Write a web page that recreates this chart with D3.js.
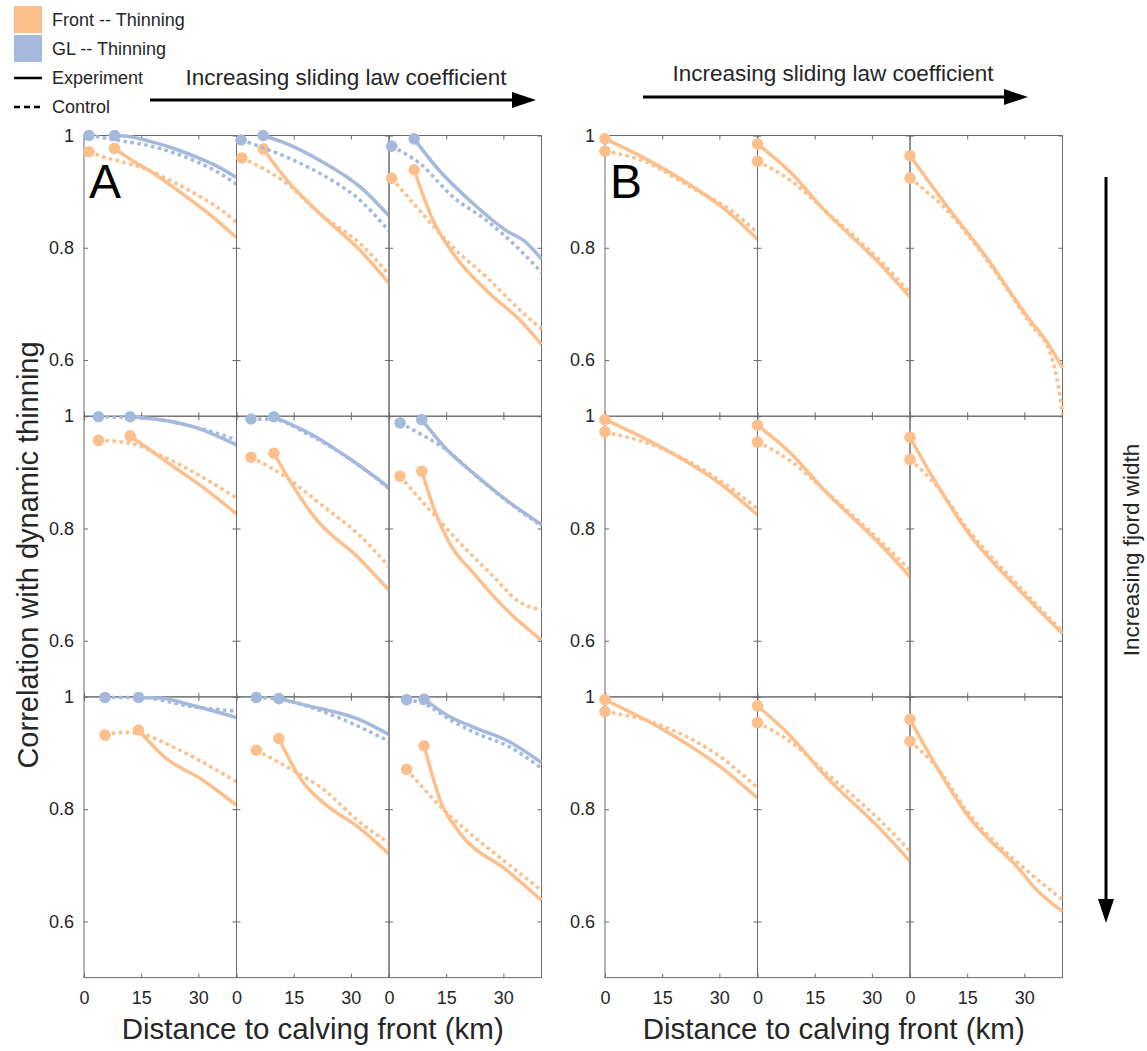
<!DOCTYPE html>
<html>
<head>
<meta charset="utf-8">
<script src="https://cdn.jsdelivr.net/npm/d3@7"></script>
<style>
  body { margin: 0; background: #fff; }
  svg { font-family: "Liberation Sans", Arial, Helvetica, sans-serif; }
</style>
</head>
<body>
<div class="container"></div>
<script>
// distance (km) vs correlation, one list of [km, r] per cell, cells row by row
const xTicks = [0, 15, 30];
const yTicks = [0.6, 0.8, 1];

// panel A
const frontExpA = [
  [[8,0.977],[12,0.958],[17,0.938],[24,0.905],[30,0.875],[35,0.848],[40,0.818]],
  [[7,0.976],[13.3,0.92],[22,0.86],[32.5,0.795],[40,0.737]],
  [[6.6,0.939],[11.6,0.848],[16.9,0.789],[25.7,0.723],[34.5,0.67],[40,0.628]],
  [[12.1,0.965],[17.8,0.9375],[23.9,0.908],[30.9,0.875],[40,0.826]],
  [[9.8,0.934],[14.6,0.878],[20.7,0.818],[32.1,0.747],[40,0.69]],
  [[8.6,0.902],[12.1,0.83],[15.6,0.777],[22.6,0.717],[31.3,0.652],[40,0.601]],
  [[14.3,0.941],[21.3,0.892],[30.9,0.853],[40,0.807]],
  [[11.1,0.926],[17.2,0.85],[23.4,0.808],[32.1,0.767],[40,0.72]],
  [[9.2,0.913],[13.9,0.808],[18.2,0.761],[31.3,0.689],[40,0.638]]
];
const frontCtlA = [
  [[1.3,0.971],[5,0.962],[10,0.953],[17,0.938],[24,0.915],[30,0.893],[35,0.872],[40,0.846]],
  [[1.4,0.96],[13.3,0.914],[22,0.86],[32.5,0.807],[40,0.752]],
  [[0.7,0.924],[8.1,0.866],[16.9,0.8],[25.7,0.747],[34.5,0.688],[40,0.655]],
  [[3.8,0.957],[12.1,0.952],[19.5,0.932],[28.3,0.902],[34.4,0.878],[40,0.854]],
  [[3.8,0.927],[12,0.896],[23.4,0.836],[32.1,0.789],[40,0.732]],
  [[2.9,0.893],[10.3,0.836],[18.2,0.777],[27,0.717],[34,0.67],[40,0.655]],
  [[5.5,0.932],[9.9,0.937],[14.3,0.935],[23.9,0.909],[34.4,0.871],[40,0.849]],
  [[5.2,0.905],[13.6,0.874],[23.4,0.832],[32.1,0.778],[40,0.74]],
  [[4.6,0.871],[13.9,0.802],[22.6,0.749],[31.3,0.702],[40,0.655]]
];
const glExpA = [
  [[8,1.0],[12,0.998],[17,0.99],[24,0.976],[30,0.96],[35,0.945],[40,0.925]],
  [[7,1.0],[13.3,0.985],[22,0.955],[32.5,0.908],[40,0.857]],
  [[6.6,0.994],[12.5,0.943],[22.2,0.878],[30.9,0.83],[35.3,0.813],[40,0.78]],
  [[12.1,0.999],[19.5,0.994],[28.3,0.982],[40,0.949]],
  [[9.8,0.999],[19,0.97],[31.2,0.917],[40,0.873]],
  [[8.6,0.994],[15.6,0.9375],[22.6,0.896],[31.3,0.848],[40,0.807]],
  [[14.3,0.999],[20,0.998],[28.3,0.985],[40,0.963]],
  [[11.1,0.997],[19,0.984],[32.1,0.96],[40,0.933]],
  [[9.2,0.996],[15.6,0.966],[22.6,0.945],[31.3,0.921],[40,0.883]]
];
const glCtlA = [
  [[1.3,1.0],[5,0.996],[10,0.99],[17,0.982],[24,0.968],[30,0.952],[35,0.935],[40,0.913]],
  [[1.2,0.992],[13.3,0.961],[22,0.932],[32.5,0.884],[40,0.83]],
  [[0.7,0.981],[8.1,0.95],[16.9,0.89],[25.7,0.848],[34.5,0.795],[40,0.756]],
  [[3.8,0.999],[12.1,0.998],[19.5,0.994],[30,0.979],[40,0.958]],
  [[3.8,0.995],[9.8,0.994],[19,0.967],[31.2,0.917],[40,0.871]],
  [[2.9,0.988],[8.6,0.967],[15.6,0.9375],[22.6,0.895],[31.3,0.847],[40,0.805]],
  [[5.5,0.999],[14.3,0.999],[30,0.981],[40,0.975]],
  [[5.2,0.999],[11.1,0.996],[23.4,0.972],[40,0.921]],
  [[4.6,0.995],[9.4,0.987],[15.6,0.961],[22.6,0.936],[31.3,0.912],[40,0.873]]
];

// panel B
const frontExpB = [
  [[0,0.994],[10,0.961],[23.2,0.908],[31.9,0.866],[40,0.815]],
  [[0,0.985],[8.7,0.934],[17.4,0.868],[32.3,0.77],[40,0.712]],
  [[0,0.964],[10.6,0.866],[19.4,0.789],[31.6,0.67],[35.1,0.64],[40,0.586]],
  [[0,0.994],[13.6,0.949],[31.1,0.875],[40,0.824]],
  [[0,0.984],[8.7,0.934],[17.4,0.869],[32.3,0.771],[40,0.714]],
  [[0,0.9625],[7.1,0.878],[15,0.795],[29.9,0.682],[40,0.613]],
  [[0,0.995],[13.6,0.948],[31.1,0.871],[40,0.82]],
  [[0,0.984],[8.7,0.93],[17.4,0.862],[32.3,0.764],[40,0.707]],
  [[0,0.96],[7.1,0.874],[15,0.79],[29.9,0.683],[32,0.665],[40,0.618]]
];
const frontCtlB = [
  [[0,0.972],[10,0.955],[23.2,0.905],[31.9,0.872],[40,0.827]],
  [[0,0.954],[8.7,0.92],[17.4,0.868],[32.3,0.776],[40,0.72]],
  [[0,0.924],[10.6,0.86],[19.4,0.785],[31.6,0.664],[36.9,0.61],[39,0.55],[40,0.503]],
  [[0,0.972],[13.6,0.946],[31.1,0.881],[40,0.835]],
  [[0,0.954],[8.7,0.92],[17.4,0.869],[32.3,0.777],[40,0.726]],
  [[0,0.923],[7.1,0.875],[15,0.8],[29.9,0.688],[40,0.616]],
  [[0,0.974],[13.6,0.952],[31.1,0.889],[40,0.838]],
  [[0,0.954],[8.7,0.92],[17.4,0.868],[32.3,0.779],[40,0.725]],
  [[0,0.921],[7.1,0.874],[15,0.796],[29.9,0.695],[40,0.639]]
];

const orange = '#fdbf8b';
const blue = '#a4b9dc';
const frameColor = '#6b6b6b';

const svg = d3.select('.container')
  .append('svg')
  .attr('width', 1147)
  .attr('height', 1051);

const cellW = 152.5, cellH = 280.7, topY = 135.5;

function drawPanel(left, series, letter){
  for (let r = 0; r < 3; r++){
    for (let c = 0; c < 3; c++){
      const x = d3.scaleLinear().domain([0, 40]).range([left + c*cellW, left + (c+1)*cellW]);
      const y = d3.scaleLinear().domain([0.5, 1]).range([topY + (r+1)*cellH, topY + r*cellH]);
      const g = svg.append('g');

      // axes, ticks pointing inward
      const bottom = g.append('g').attr('transform', `translate(0,${y(0.5)})`)
        .call(d3.axisBottom(x).tickValues(xTicks).tickSize(-4).tickPadding(14)
          .tickFormat(r === 2 ? d3.format('d') : ''));
      const topAx = g.append('g').attr('transform', `translate(0,${y(1)})`)
        .call(d3.axisTop(x).tickValues(xTicks).tickSize(-4).tickFormat(''));
      const leftAx = g.append('g').attr('transform', `translate(${x(0)},0)`)
        .call(d3.axisLeft(y).tickValues(yTicks).tickSize(-4).tickPadding(10)
          .tickFormat(c === 0 ? d3.format('~g') : ''));
      const rightAx = g.append('g').attr('transform', `translate(${x(40)},0)`)
        .call(d3.axisRight(y).tickValues(yTicks).tickSize(-4).tickFormat(''));
      [bottom, topAx, leftAx, rightAx].forEach(a => {
        a.select('.domain').remove();
        a.selectAll('line').attr('stroke', frameColor);
        a.selectAll('text').attr('fill', '#262626').style('font-size', '18px');
      });

      g.append('rect')
        .attr('x', x(0)).attr('y', y(1))
        .attr('width', x(40) - x(0)).attr('height', y(0.5) - y(1))
        .attr('fill', 'none').attr('stroke', frameColor).attr('stroke-width', 1);

      const line = d3.line().x(d => x(d[0])).y(d => y(d[1])).curve(d3.curveMonotoneX);
      const i = r*3 + c;
      series.forEach(s => {
        const pts = s.data[i];
        g.append('path')
          .attr('d', line(pts))
          .attr('fill', 'none')
          .attr('stroke', s.color)
          .attr('stroke-width', 3.5)
          .attr('stroke-dasharray', s.dashed ? '3.5,3.5' : null);
        g.append('circle')
          .attr('cx', x(pts[0][0])).attr('cy', y(pts[0][1]))
          .attr('r', 5.8).attr('fill', s.color);
      });
    }
  }
  svg.append('text')
    .attr('x', left + 5).attr('y', 198)
    .style('font-size', '48px')
    .text(letter);

  svg.append('text')
    .attr('x', left + 1.5*cellW).attr('y', 1039)
    .attr('text-anchor', 'middle')
    .attr('fill', '#262626')
    .style('font-size', '29.5px')
    .text('Distance to calving front (km)');
}

drawPanel(84, [
  {data: frontCtlA, color: orange, dashed: true},
  {data: frontExpA, color: orange, dashed: false},
  {data: glCtlA, color: blue, dashed: true},
  {data: glExpA, color: blue, dashed: false}
], 'A');

drawPanel(605, [
  {data: frontCtlB, color: orange, dashed: true},
  {data: frontExpB, color: orange, dashed: false}
], 'B');

// y label
svg.append('text')
  .attr('transform', 'translate(38,555) rotate(-90)')
  .attr('text-anchor', 'middle')
  .attr('fill', '#262626')
  .style('font-size', '29px')
  .text('Correlation with dynamic thinning');

// legend
const legendBoxes = [{label: 'Front -- Thinning', color: orange, y: 6}, {label: 'GL -- Thinning', color: blue, y: 35}];
legendBoxes.forEach(d => {
  svg.append('rect').attr('x', 14).attr('y', d.y).attr('width', 28).attr('height', 27).attr('fill', d.color);
  svg.append('text').attr('x', 52).attr('y', d.y + 20).style('font-size', '18px').attr('fill', '#262626').text(d.label);
});
const legendLines = [{label: 'Experiment', dash: null, y: 78}, {label: 'Control', dash: '6,4', y: 107}];
legendLines.forEach(d => {
  svg.append('line').attr('x1', 14).attr('x2', 42).attr('y1', d.y).attr('y2', d.y)
    .attr('stroke', '#000').attr('stroke-width', 2.5).attr('stroke-dasharray', d.dash);
  svg.append('text').attr('x', 52).attr('y', d.y + 6).style('font-size', '18px').attr('fill', '#262626').text(d.label);
});

// arrows
function arrow(x1, y1, x2, y2){
  const ang = Math.atan2(y2 - y1, x2 - x1);
  const len = 24, half = 8;
  const bx = x2 - len*Math.cos(ang), by = y2 - len*Math.sin(ang);
  svg.append('line').attr('x1', x1).attr('y1', y1).attr('x2', bx).attr('y2', by)
    .attr('stroke', '#000').attr('stroke-width', 3);
  svg.append('path')
    .attr('d', `M${x2},${y2}L${bx - half*Math.sin(ang)},${by + half*Math.cos(ang)}L${bx + half*Math.sin(ang)},${by - half*Math.cos(ang)}Z`)
    .attr('fill', '#000');
}
arrow(150, 100, 536, 100);
arrow(643, 97, 1028, 97);
arrow(1106, 177, 1106, 923);

svg.append('text').attr('x', 346).attr('y', 85).attr('text-anchor', 'middle')
  .style('font-size', '22.5px').attr('fill', '#262626').text('Increasing sliding law coefficient');
svg.append('text').attr('x', 833).attr('y', 81).attr('text-anchor', 'middle')
  .style('font-size', '22.5px').attr('fill', '#262626').text('Increasing sliding law coefficient');
svg.append('text')
  .attr('transform', 'translate(1139,550) rotate(-90)')
  .attr('text-anchor', 'middle')
  .style('font-size', '22.5px').attr('fill', '#262626')
  .text('Increasing fjord width');
</script>
</body>
</html>
